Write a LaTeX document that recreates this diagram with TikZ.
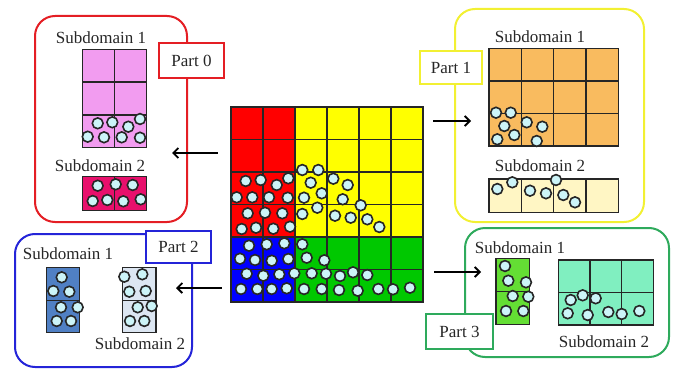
\documentclass[tikz,border=0pt]{standalone}
\usepackage{fontspec}
\setmainfont{Liberation Serif}
\usetikzlibrary{arrows.meta}
\definecolor{redc}{RGB}{255,0,0}
\definecolor{yellowc}{RGB}{255,255,0}
\definecolor{bluec}{RGB}{0,0,255}
\definecolor{greenc}{RGB}{0,200,0}
\definecolor{pzero}{RGB}{228,30,36}
\definecolor{pone}{RGB}{242,240,50}
\definecolor{ptwo}{RGB}{36,36,216}
\definecolor{pthree}{RGB}{46,170,92}
\definecolor{pcyan}{RGB}{204,244,248}
\definecolor{pinkc}{RGB}{242,156,240}
\definecolor{magc}{RGB}{232,16,108}
\definecolor{orangec}{RGB}{249,187,95}
\definecolor{paleyc}{RGB}{255,246,196}
\definecolor{steelc}{RGB}{80,128,196}
\definecolor{palebc}{RGB}{220,230,242}
\definecolor{brightgc}{RGB}{100,222,52}
\definecolor{aquac}{RGB}{128,239,192}
\newcommand\cellgrid[7]{%
  \path[fill=#7] (#1,#2) rectangle ({#1+#3*#5},{#2+#4*#6});
  \foreach \i in {0,...,#3} \draw[gridline] ({#1+\i*#5},#2) -- ({#1+\i*#5},{#2+#4*#6});
  \foreach \j in {0,...,#4} \draw[gridline] (#1,{#2+\j*#6}) -- ({#1+#3*#5},{#2+\j*#6});
}
\begin{document}
\begin{tikzpicture}[x=1pt,y=-1pt,
  partbox/.style={rounded corners=20pt, line width=2pt, inner sep=0},
  labelbox/.style={draw, fill=white, line width=2pt, inner sep=0, font=\fontsize{17}{20}\selectfont, text=black!85},
  sublabel/.style={font=\fontsize{17}{20}\selectfont, inner sep=0, text=black!85},
  gridline/.style={line width=1.4pt, draw=black!85, line cap=rect},
  particle/.style={draw=black!85, fill=pcyan, line width=1.6pt},
  arr/.style={-{Straight Barb[length=5pt,width=10pt]}, line width=1.8pt, draw=black}]
\useasboundingbox (0,0) rectangle (674,369);
% ---------------- central grid ----------------
\node[minimum width=192pt, minimum height=195pt, inner sep=0] (grid) at (327,204.5) {};
\fill[redc] (231,107) rectangle (295,237);
\fill[yellowc] (295,107) rectangle (423,237);
\fill[bluec] (231,237) rectangle (295,302);
\fill[greenc] (295,237) rectangle (423,302);
\cellgrid{231}{107}{6}{6}{32}{32.5}{none}
\foreach \p in {(245.7,181),(260.7,180),(276.7,185),(288.3,178.3),(236.7,197.3),(252.3,197.3),(269,197.3),(287.7,197.7),(247.7,213.3),(265,212.7),(282.3,213.3),(241.7,229),(256,227.7),(273.3,228.7),(290,226.7),
  (302.3,170),(318.3,170),(333.3,178.7),(310.7,182.7),(347.7,185),(304,197.7),(321.7,193.3),(342.7,199.3),(360.7,205.3),(302.3,214),(317.3,207.7),(335,215.7),(350.7,217.7),(367.3,219.3),(379.3,227),
  (249,245.7),(266.7,244.3),(284.3,243.3),(240,258.7),(255,260),(271.7,260.7),(288.3,259),(246.7,273.7),(263.3,275.7),(279.3,274.3),(294.3,273.3),(241,289),(257.3,289),(271.7,289),(286.7,288.3),
  (302.3,244.3),(306.7,257.7),(324.3,260.3),(311.7,273.3),(326,273.7),(340,276),(353,272.3),(367.3,275),(304,289),(321.7,289),(339,290),(357.7,290.7),(378.3,289),(393,289.3),(410,287.7)}
  \draw[particle] \p circle[radius=5.4pt];
% ---------------- Part 0 ----------------
\node[partbox, draw=pzero, minimum width=152pt, minimum height=206pt] (part0) at (111,119) {};
\node[labelbox, draw=pzero, minimum width=65pt, minimum height=35pt] (lab0) at (191.5,60.5) {Part 0};
\node[sublabel] (s01) at (101,38) {Subdomain 1};
\node[sublabel] (s02) at (100,166) {Subdomain 2};
\cellgrid{82.7}{49.3}{2}{3}{32}{32.8}{pinkc}
\cellgrid{82.7}{176.7}{2}{1}{32}{34}{magc}
\foreach \p in {(97.7,123.3),(112.3,122.3),(128.3,126.7),(140,119),(87.7,136.7),(104,137.3),(121.7,137.3),(140,137.7),
  (97.7,185.7),(115.7,184.3),(132.7,185),(92.7,201),(107.3,200),(123.3,201.3),(140.7,199.3)}
  \draw[particle] \p circle[radius=5.4pt];
% ---------------- Part 1 ----------------
\node[partbox, draw=pone, minimum width=189pt, minimum height=213pt] (part1) at (549.5,115.5) {};
\node[labelbox, draw=pone, minimum width=62pt, minimum height=32pt] (lab1) at (451,67.5) {Part 1};
\node[sublabel] (s11) at (540,37) {Subdomain 1};
\node[sublabel] (s12) at (540,166) {Subdomain 2};
\cellgrid{489}{48.3}{4}{3}{32.3}{32.6}{orangec}
\cellgrid{489}{179}{4}{1}{32.3}{33.3}{paleyc}
\foreach \p in {(496,112.7),(510.7,112.7),(504.3,126),(526.7,122.3),(542.3,126.7),(497.3,139.3),(514.3,135),(536.7,141),
  (497.3,189),(512.3,182.3),(530,190.7),(546,193.3),(556,180),(563.3,195),(575,202.3)}
  \draw[particle] \p circle[radius=5.4pt];
% ---------------- Part 2 ----------------
\node[partbox, draw=ptwo, minimum width=177pt, minimum height=133pt] (part2) at (103.5,300.5) {};
\node[labelbox, draw=ptwo, minimum width=65pt, minimum height=32pt] (lab2) at (178.5,247) {Part 2};
\node[sublabel] (s21) at (68,254) {Subdomain 1};
\node[sublabel] (s22) at (140,344) {Subdomain 2};
\cellgrid{46.7}{267.7}{1}{2}{32.6}{32.5}{steelc}
\cellgrid{122.7}{267.7}{1}{2}{33.3}{32.5}{palebc}
\foreach \p in {(61.7,277.3),(53.3,291),(69.3,291.7),(61,307.3),(77.7,307.3),(56.7,321),(71,321),
  (124.3,276.7),(142.3,274.3),(129.3,291.7),(145.7,291),(137.7,307.3),(151.7,306),(130,321),(144.3,321)}
  \draw[particle] \p circle[radius=5.4pt];
% ---------------- Part 3 ----------------
\node[partbox, draw=pthree, minimum width=204pt, minimum height=129pt] (part3) at (567,292.5) {};
\node[labelbox, draw=pthree, minimum width=67pt, minimum height=35pt] (lab3) at (459.5,331.5) {Part 3};
\node[sublabel] (s31) at (520,248) {Subdomain 1};
\node[sublabel] (s32) at (604,342) {Subdomain 2};
\cellgrid{496}{258.3}{1}{2}{33.3}{33}{brightgc}
\cellgrid{558.3}{260}{3}{2}{31.7}{32.5}{aquac}
\foreach \p in {(505,266),(508.3,280.7),(526,282.3),(512.7,296),(528.3,296.7),(506,311),(523.3,311),
  (570.7,300),(582.7,295.3),(595.7,298.3),(567.7,313.3),(587.7,315),(608.3,312),(621.7,314),(639.3,311)}
  \draw[particle] \p circle[radius=5.4pt];
% ---------------- arrows ----------------
\coordinate (e0) at (172,153);
\coordinate (e1) at (471,121);
\coordinate (e2) at (176,288);
\coordinate (e3) at (481,272);
\draw[arr] ([xshift=-13pt]grid.west |- e0) -- (e0);
\draw[arr] ([xshift=10pt]grid.east |- e1) -- (e1);
\draw[arr] ([xshift=-9pt]grid.west |- e2) -- (e2);
\draw[arr] ([xshift=11pt]grid.east |- e3) -- (e3);
\end{tikzpicture}
\end{document}
